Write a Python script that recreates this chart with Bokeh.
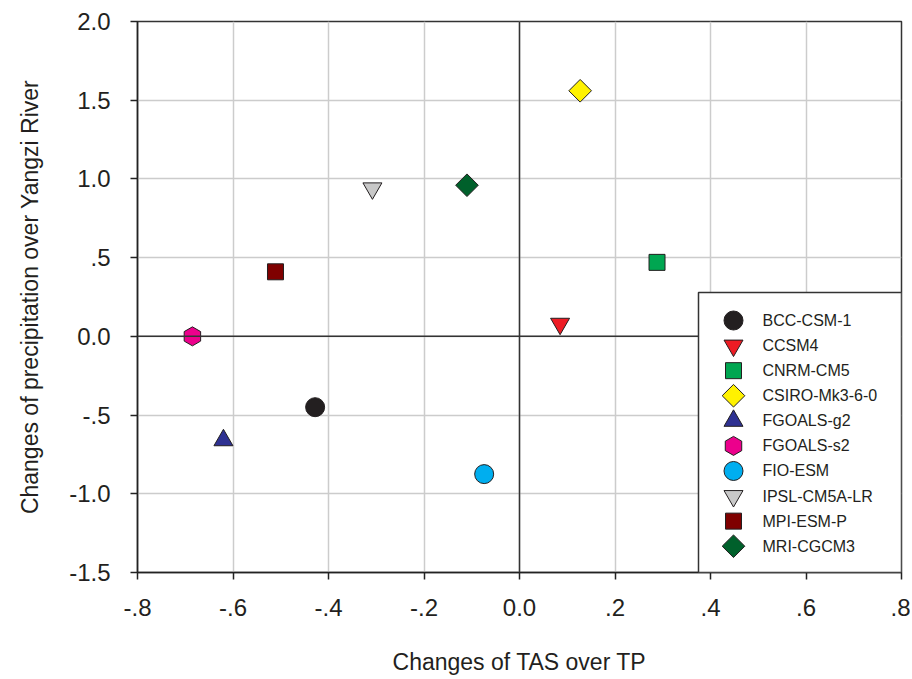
import math
from bokeh.plotting import figure
from bokeh.models import ColumnDataSource, FixedTicker, Span, Range1d, BoxAnnotation
from bokeh.core.properties import value
from bokeh.embed import file_html
from bokeh.resources import INLINE

models = ["BCC-CSM-1", "CCSM4", "CNRM-CM5", "CSIRO-Mk3-6-0", "FGOALS-g2",
          "FGOALS-s2", "FIO-ESM", "IPSL-CM5A-LR", "MPI-ESM-P", "MRI-CGCM3"]
tas_change = [-0.428, 0.085, 0.288, 0.127, -0.620, -0.685, -0.074, -0.308, -0.511, -0.110]
pr_change = [-0.45, 0.08, 0.47, 1.56, -0.66, 0.0, -0.875, 0.94, 0.41, 0.96]
colors = ["#231f20", "#ed1c24", "#00a651", "#fff200", "#2e3192",
          "#ec008c", "#00aeef", "#c8c8c8", "#7f0000", "#00602b"]
markers = ["circle", "inverted_triangle", "square", "square", "triangle",
           "hex", "circle", "inverted_triangle", "square", "square"]
angles = [0, 0, 0, 45, 0, 90, 0, 0, 0, 45]
sizes = [19, 19, 16, 16, 19, 19, 19, 19, 16, 16]

x_ticks = [-0.8, -0.6, -0.4, -0.2, 0.0, 0.2, 0.4, 0.6, 0.8]
x_tick_labels = ["-.8", "-.6", "-.4", "-.2", "0.0", ".2", ".4", ".6", ".8"]
y_ticks = [-1.5, -1.0, -0.5, 0.0, 0.5, 1.0, 1.5, 2.0]
y_tick_labels = ["-1.5", "-1.0", "-.5", "0.0", ".5", "1.0", "1.5", "2.0"]

FONT = "Liberation Sans"
TXT = "#231f20"

W, H = 910, 677
BL, BR, BT, BB = 137, 9, 21, 105
FW, FH = W - BL - BR, H - BT - BB  # frame size in pixels

p = figure(width=W, height=H, x_range=(-0.8, 0.8), y_range=(-1.5, 2.0),
           output_backend="svg", toolbar_location=None,
           min_border_left=BL, min_border_right=BR, min_border_top=BT, min_border_bottom=BB)
p.outline_line_color = "#333333"
p.outline_line_width = 1.5
p.background_fill_color = "white"
p.border_fill_color = "white"

for ax in (p.xaxis[0], p.yaxis[0]):
    ax.major_tick_out = 7
    ax.major_tick_in = 0
    ax.minor_tick_out = 0
    ax.minor_tick_in = 0
    ax.axis_line_color = "#222222"
    ax.axis_line_width = 1.5
    ax.major_tick_line_color = "#222222"
    ax.major_tick_line_width = 1.5
    ax.major_label_text_font = FONT
    ax.major_label_text_font_size = "24px"
    ax.major_label_text_color = TXT
    ax.axis_label_text_font = FONT
    ax.axis_label_text_font_size = "23px"
    ax.axis_label_text_font_style = "normal"
    ax.axis_label_text_color = TXT

p.xaxis.ticker = FixedTicker(ticks=x_ticks)
p.yaxis.ticker = FixedTicker(ticks=y_ticks)
p.xaxis.major_label_overrides = {t: l for t, l in zip(x_ticks, x_tick_labels)}
p.yaxis.major_label_overrides = {t: l for t, l in zip(y_ticks, y_tick_labels)}
p.xaxis.axis_label = "Changes of TAS over TP"
p.yaxis.axis_label = "Changes of precipitation over Yangzi River"
p.xaxis.major_label_standoff = 19
p.yaxis.major_label_standoff = 20
p.xaxis.axis_label_standoff = 30
p.yaxis.axis_label_standoff = 23

p.grid.grid_line_color = "#cccccc"
p.grid.grid_line_width = 1.5

# data markers
for i in range(len(models)):
    src = ColumnDataSource(dict(x=[tas_change[i]], y=[pr_change[i]]))
    p.scatter("x", "y", source=src, marker=markers[i], size=sizes[i],
              angle=math.radians(angles[i]),
              fill_color=colors[i], line_color="#231f20", line_width=1)

p.add_layout(Span(location=0, dimension="height", line_color="#333333", line_width=1.5))
p.add_layout(Span(location=0, dimension="width", line_color="#333333", line_width=1.5))

# legend (drawn in frame-pixel coordinates so marker sizes/shapes match the plot)
p.extra_x_ranges["leg"] = Range1d(0, FW)
p.extra_y_ranges["leg"] = Range1d(0, FH)
LEG_LEFT, LEG_TOP = 561, 280
LEG_MX, LEG_TX, LEG_Y0, LEG_DY = 596, 625, 252, 25.08

p.add_layout(BoxAnnotation(left=LEG_LEFT, right=FW, bottom=0, top=LEG_TOP,
                           x_range_name="leg", y_range_name="leg",
                           fill_color="white", fill_alpha=1.0,
                           line_color="#333333", line_width=1.5, line_alpha=1.0))

leg_y = [LEG_Y0 - i * LEG_DY for i in range(len(models))]
for i in range(len(models)):
    src = ColumnDataSource(dict(x=[LEG_MX], y=[leg_y[i]]))
    r = p.scatter("x", "y", source=src, marker=markers[i], size=sizes[i],
                  angle=math.radians(angles[i]), x_range_name="leg", y_range_name="leg",
                  fill_color=colors[i], line_color="#231f20", line_width=1)
    r.level = "overlay"

tsrc = ColumnDataSource(dict(x=[LEG_TX] * len(models), y=leg_y, t=models))
tr = p.text("x", "y", text="t", source=tsrc, x_range_name="leg", y_range_name="leg",
            text_font=value(FONT), text_font_size="16px", text_color=TXT,
            text_baseline="middle", text_align="left")
tr.level = "overlay"

open("out.html", "w").write(file_html(p, INLINE))
